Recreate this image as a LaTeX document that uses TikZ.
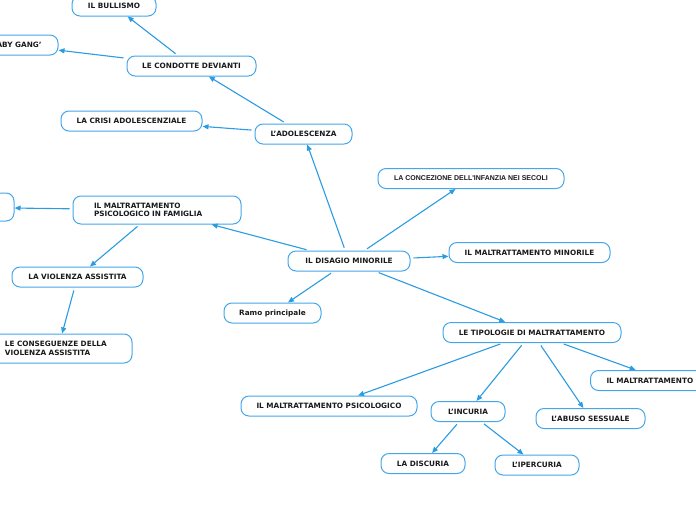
\documentclass[tikz,border=0pt]{standalone}
\usepackage{fontspec}
\setmainfont{DejaVu Sans}
\newfontfamily\arialb{Liberation Sans}
\usetikzlibrary{arrows.meta}
\definecolor{mmline}{HTML}{2B9BE2}
\definecolor{mmborder}{HTML}{45A7EA}
\definecolor{mmtext}{HTML}{1A1A1A}
\begin{document}
\begin{tikzpicture}[x=1pt,y=-1pt,
  box/.style={draw=mmborder, line width=1pt, rounded corners=8pt, fill=white,
    text=mmtext, font=\fontsize{7.3}{8.6}\selectfont\bfseries,
    minimum height=20pt, inner sep=0pt, align=center},
  twoline/.style={box, align=left, inner xsep=21pt, inner ysep=0pt},
  link/.style={draw=mmline, line width=1.1pt, -{Triangle[length=6pt,width=5pt]}, shorten <=3pt}]
\useasboundingbox (0,0) rectangle (696,520);
\clip (0,0) rectangle (696,520);

% nodes
\node[box, minimum width=122pt] (dis) at (349,261) {IL DISAGIO MINORILE};
\node[box, minimum width=97pt] (adol) at (303.5,134) {L'ADOLESCENZA};
\node[box, minimum width=129pt] (cond) at (191.5,66) {LE CONDOTTE DEVIANTI};
\node[box, minimum width=141pt] (crisi) at (131.5,121) {LA CRISI ADOLESCENZIALE};
\node[box, minimum width=84pt] (bull) at (114,6) {IL BULLISMO};
\node[box, minimum width=86pt] (baby) at (15,45) {'BABY GANG'};
\node[twoline, text width=126pt, minimum height=28pt] (fam) at (157,210) {IL MALTRATTAMENTO\\PSICOLOGICO IN FAMIGLIA};
\node[box, minimum width=148pt, minimum height=28pt] (lft) at (-60,207) {};
\node[box, minimum width=131pt] (viol) at (77.5,277) {LA VIOLENZA ASSISTITA};
\node[twoline, text width=106pt, minimum height=29pt] (cons) at (58,348.5) {LE CONSEGUENZE DELLA\\VIOLENZA ASSISTITA};
\node[box, minimum width=97pt] (ramo) at (272.5,313) {Ramo principale};
\node[box, minimum width=186pt, font=\arialb\fontsize{7}{8}\selectfont\bfseries] (conc) at (471,178.5) {LA CONCEZIONE DELL'INFANZIA NEI SECOLI};
\node[box, minimum width=161pt] (mino) at (529.5,252.5) {IL MALTRATTAMENTO MINORILE};
\node[box, minimum width=178pt] (tip) at (532,332.5) {LE TIPOLOGIE DI MALTRATTAMENTO};
\node[box, minimum width=176pt] (psico) at (329,406) {IL MALTRATTAMENTO PSICOLOGICO};
\node[box, minimum width=74pt] (inc) at (468,411.5) {L'INCURIA};
\node[box, minimum width=109pt] (abuso) at (590.5,418.5) {L'ABUSO SESSUALE};
\node[box, anchor=west, inner xsep=16pt] (fis) at (590,380.5) {IL MALTRATTAMENTO FISICO};
\node[box, minimum width=84pt] (disc) at (423,463.5) {LA DISCURIA};
\node[box, minimum width=84pt] (iper) at (537,465) {L'IPERCURIA};

% connectors
\draw[link] (dis) -- (adol);
\draw[link] (adol) -- (cond);
\draw[link] (adol) -- (crisi);
\draw[link] (cond) -- (bull);
\draw[link] (cond) -- (baby);
\draw[link] (dis) -- (fam);
\draw[link] (fam) -- (lft);
\draw[link] (fam) -- (viol);
\draw[link] (viol) -- (cons);
\draw[link] (dis) -- (ramo);
\draw[link] (dis) -- (conc);
\draw[link] (dis) -- (mino);
\draw[link] (dis) -- (tip);
\draw[link] (tip) -- (psico);
\draw[link] (tip) -- (inc);
\draw[link] (tip) -- (abuso);
\draw[link] (tip) -- (fis);
\draw[link] (inc) -- (disc);
\draw[link] (inc) -- (iper);
\end{tikzpicture}
\end{document}
